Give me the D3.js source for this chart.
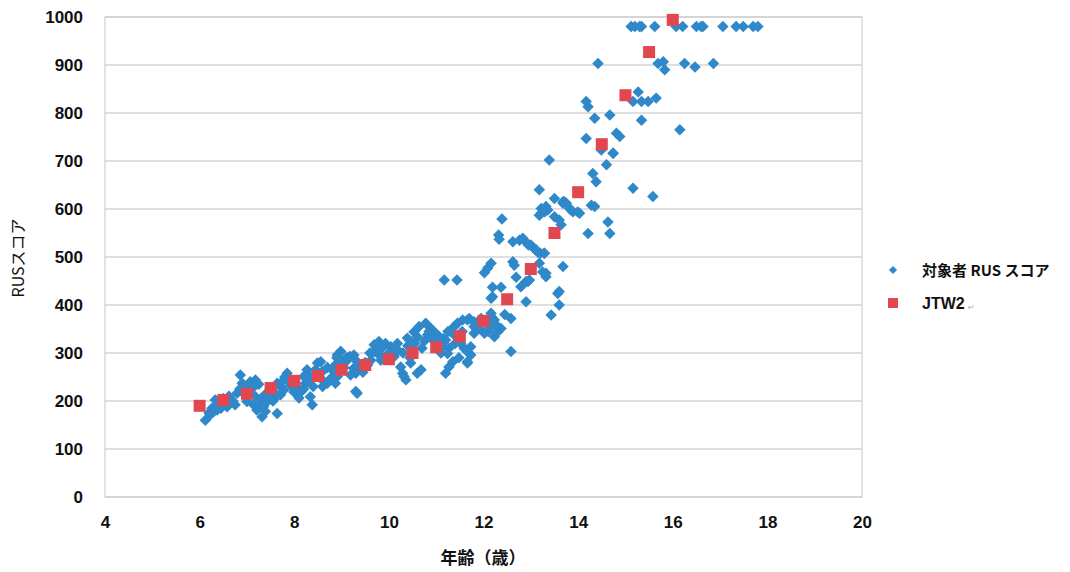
<!DOCTYPE html>
<html><head><meta charset="utf-8">
<script src="https://cdn.jsdelivr.net/npm/d3@7"></script>
<style>body{margin:0;background:#fff}svg{display:block}</style>
</head><body><svg id="c" width="1070" height="572"></svg>
<script>
const xTicks=[4,6,8,10,12,14,16,18,20];
const yTicks=[0,100,200,300,400,500,600,700,800,900,1000];
const jtwAge=[6,6.5,7,7.5,8,8.5,9,9.5,10,10.5,11,11.5,12,12.5,13,13.5,14,14.5,15,15.5,16];
const jtwScore=[190,202,215,227,242,252,265,275,287,300,312,335,367,412,475,550,635,735,837,927,994];
const rusAge=[
6.12,6.22,6.3,6.37,6.26,6.4,6.33,6.44,6.58,6.68,6.75,6.86,6.9,7.07,7.11,7.18,7.0,7.14,7.28,7.21,7.35,7.43,7.39,7.32,7.18,7.64,
7.5,7.57,7.6,7.71,7.78,7.71,7.64,7.85,7.78,7.92,8.03,8.1,7.99,8.1,8.34,8.38,8.2,8.27,8.24,8.34,
8.49,8.56,8.59,8.52,8.63,8.7,8.77,8.8,8.87,8.91,8.91,8.98,9.12,9.19,9.26,9.33,9.3,9.26,6.79,6.93,
9.33,9.3,8.84,8.91,8.8,9.05,9.16,8.98,9.26,9.19,
9.69,9.79,9.93,10.04,10.18,9.76,9.83,9.62,10.11,
10.25,10.32,10.36,10.68,10.6,10.46,10.29,
10.39,10.53,10.64,10.78,10.89,10.82,10.6,
10.92,11.03,11.13,11.2,11.24,11.27,11.35,11.27,
11.66,11.7,11.59,11.73,11.8,11.91,12.05,12.16,12.23,12.3,
11.38,11.45,11.56,11.7,11.8,11.95,11.42,11.2,12.19,
11.1,11.15,11.3,11.4,11.48,11.66,11.73,11.52,11.63,12.16,12.3,12.37,12.23,12.02,11.8,11.66,12.16,12.19,
12.39,12.32,12.33,12.62,12.76,12.83,12.95,13.05,13.1,13.15,13.2,13.28,12.16,12.09,12.02,12.62,12.65,12.69,
12.79,12.9,12.97,13.25,13.32,13.68,13.6,13.6,13.43,12.19,12.37,12.16,12.9,12.58,12.58,11.17,11.44,
13.36,13.68,13.22,13.39,13.18,13.5,13.68,13.75,13.22,13.29,13.18,13.32,13.5,13.6,13.64,13.82,13.89,14.03,
14.28,14.21,14.63,14.67,14.31,14.38,14.6,14.74,15.16,12.86,13.0,13.11,13.29,13.18,13.32,12.94,13.57,
14.42,15.69,15.8,15.83,16.25,16.47,16.86,15.27,15.16,15.34,15.48,15.65,14.17,14.21,14.67,14.35,15.34,16.15,
14.17,14.81,14.88,14.49,14.74,15.58,13.71,13.85,13.99,14.35,
15.12,15.2,15.3,15.34,15.62,16.07,16.21,16.5,16.6,16.64,17.06,17.34,17.49,17.7,17.8,
6.5,6.55,6.62,6.7,6.95,7.25,7.45,7.9,8.15,8.45,8.6,9.45,9.55,9.9,10.0,10.15,10.3,10.45,10.55,10.7,10.95,11.05,9.0,9.1,9.4,9.65,7.55,8.05,8.4,
6.2,6.45,6.85,7.05,7.3,7.8,8.3,8.7,9.05,9.5,9.75,10.05,10.2,10.4,10.75,10.85,11.0,11.25,11.55,11.85,12.1,12.25,12.45,10.5,9.85,9.6,8.9,8.2,7.4
];
const rusScore=[
160,171,178,181,185,192,202,196,188,199,192,254,237,240,226,244,199,192,195,181,188,199,178,167,209,174,
209,219,206,213,223,230,237,258,244,233,237,226,219,206,209,192,251,265,237,244,
279,282,261,251,240,237,247,268,237,279,296,303,285,292,296,282,258,268,216,216,
216,220,261,251,244,282,292,303,268,254,
317,324,320,313,320,299,285,285,292,
271,251,244,265,258,279,258,
331,344,355,362,351,338,334,
331,320,313,327,299,271,282,310,
282,299,310,313,341,351,362,376,369,351,
355,362,369,372,365,372,334,258,417,
300,330,345,320,290,279,296,320,306,355,344,351,334,341,355,369,383,372,
579,546,537,532,535,539,525,520,515,510,508,508,487,477,467,490,483,458,
438,449,452,469,459,480,428,400,379,437,437,414,407,372,303,452,452,
598,612,591,702,640,622,615,612,601,594,587,605,584,577,567,601,594,591,
608,549,573,549,674,657,692,716,643,535,525,515,508,487,466,449,424,
903,903,907,890,903,896,903,844,824,824,824,831,824,813,796,789,785,765,
747,758,751,723,716,626,615,598,594,605,
980,980,980,980,980,980,980,980,980,980,980,980,980,980,980,
205,195,210,200,230,235,215,240,220,265,230,260,275,290,300,305,300,290,320,310,325,335,265,290,270,300,200,215,230,
175,185,225,215,205,250,255,270,270,280,305,300,305,315,325,345,340,345,345,350,345,360,380,320,310,300,290,225,215
];
const seriesNames=["対象者 RUS スコア","JTW2"];

const svg=d3.select("#c");
const L=105,R=862,T=17,B=497;
const x=d3.scaleLinear().domain([4,20]).range([L,R]);
const y=d3.scaleLinear().domain([0,1000]).range([B,T]);
const blue="#2f88c9", red="#e2474f";

// gridlines
svg.append("g").selectAll("line").data(yTicks).join("line")
 .attr("x1",L).attr("x2",R).attr("y1",d=>y(d)).attr("y2",d=>y(d))
 .attr("stroke","#d4d4d4").attr("stroke-width",1.5);
svg.append("rect").attr("x",L).attr("y",T).attr("width",R-L).attr("height",B-T)
 .attr("fill","none").attr("stroke","#cfcfcf").attr("stroke-width",1.2);

// axes (labels only)
const yAxis=d3.axisLeft(y).tickValues(yTicks).tickFormat(d3.format("d")).tickSize(0).tickPadding(22);
const gy=svg.append("g").attr("transform",`translate(${L},0)`).call(yAxis);
gy.select(".domain").remove();
gy.selectAll("text").attr("font-family","'Liberation Sans',Arial,sans-serif").attr("font-weight","bold").attr("font-size",17).attr("fill","#111");
const xAxis=d3.axisBottom(x).tickValues(xTicks).tickSize(0).tickPadding(19);
const gx=svg.append("g").attr("transform",`translate(0,${B})`).call(xAxis);
gx.select(".domain").remove();
gx.selectAll("text").attr("font-family","'Liberation Sans Narrow','Liberation Sans',Arial,sans-serif").attr("font-weight","bold").attr("font-size",17).attr("fill","#111");

// titles
svg.append("text").attr("x",483).attr("y",564).attr("text-anchor","middle")
 .attr("font-family","'Noto Sans CJK JP',sans-serif").attr("font-weight","bold").attr("font-size",17).attr("fill","#111").text("年齢（歳）");
svg.append("text").attr("transform","translate(24,258) rotate(-90)").attr("text-anchor","middle")
 .attr("font-family","'Noto Sans CJK JP',sans-serif").attr("font-size",16).attr("fill","#111").text("RUSスコア");

// blue diamonds
const diamond=d3.symbol().type(d3.symbolSquare).size(66);
const rus=rusAge.map((a,i)=>({a,s:rusScore[i]}));
svg.append("g").selectAll("path").data(rus).join("path")
 .attr("d",diamond).attr("transform",d=>`translate(${x(d.a)},${y(d.s)}) rotate(45)`)
 .attr("fill",blue);

// red squares
const jtw=jtwAge.map((a,i)=>({a,s:jtwScore[i]}));
svg.append("g").selectAll("rect").data(jtw).join("rect")
 .attr("x",d=>x(d.a)-6).attr("y",d=>y(d.s)-6).attr("width",12).attr("height",12)
 .attr("fill",red);

// legend
const lg=svg.append("g");
lg.append("path").attr("d",d3.symbol().type(d3.symbolSquare).size(34)).attr("transform","translate(893,270) rotate(45)").attr("fill",blue);
lg.append("rect").attr("x",888).attr("y",298).attr("width",10).attr("height",10).attr("fill",red);
lg.append("text").attr("x",922).attr("y",276).attr("font-family","'Noto Sans CJK JP',sans-serif").attr("font-weight","bold").attr("font-size",15).attr("fill","#111").text(seriesNames[0]);
lg.append("text").attr("x",922).attr("y",309).attr("font-family","'Liberation Sans Narrow','Liberation Sans',sans-serif").attr("font-weight","bold").attr("font-size",16).attr("fill","#111").text(seriesNames[1]);
lg.append("text").attr("x",968).attr("y",310).attr("font-family","'DejaVu Sans',sans-serif").attr("font-size",8).attr("fill","#aaa").text("↵");
</script></body></html>
